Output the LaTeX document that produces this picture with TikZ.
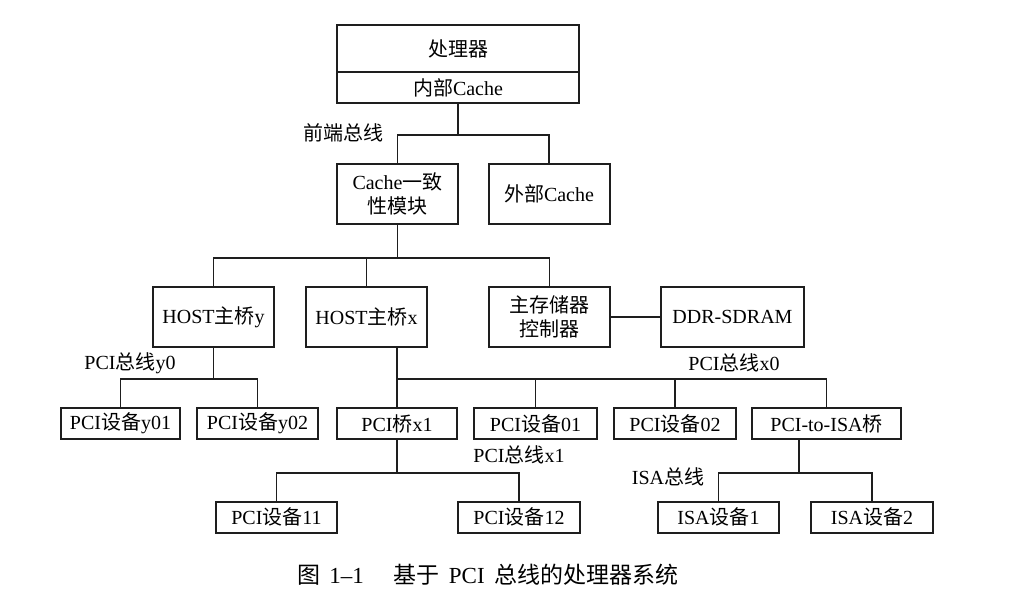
\documentclass[tikz,border=0pt]{standalone}
\usepackage{fontspec}
\setmainfont{Liberation Serif}
\newfontfamily\cjkfont{Noto Sans CJK SC}
\newcommand{\zh}[1]{{\cjkfont #1}}
\usetikzlibrary{positioning,calc}
\definecolor{lineBlk}{HTML}{1E1E1E}

\begin{document}
\begin{tikzpicture}[
  x=0.5pt, y=-0.5pt,
  font=\fontsize{10pt}{12pt}\selectfont,
  box/.style={draw=lineBlk, line width=1pt, minimum width=60.5pt,
    minimum height=30pt, inner sep=1pt, align=center},
  dev/.style={box, minimum height=15.5pt},
  bus/.style={draw=lineBlk, line width=0.8pt},
  lbl/.style={inner sep=1pt},
]
\useasboundingbox (0,0) rectangle (1012,615);

% ---------------- processor ----------------
\node[box, minimum width=121pt, minimum height=23.5pt] (cpu) at (458,48.5) {\zh{处理器}};
\node[box, minimum width=121pt, minimum height=15.5pt, below=-1pt of cpu] (icache) {\zh{内部}Cache};

\node[box] (cachemod) at (397.5,194) {Cache\zh{一致}\\\zh{性模块}};
\node[box] (extcache) at (549,194) {\zh{外部}Cache};

% ---------------- host level ----------------
\node[box] (hosty) at (213.5,317) {HOST\zh{主桥}y};
\node[box] (hostx) at (366.5,317) {HOST\zh{主桥}x};
\node[box] (memctl) at (549.5,317) {\zh{主存储器}\\\zh{控制器}};
\node[box, minimum width=71.5pt, right=24.5pt of memctl] (ddr) {DDR-SDRAM};

% ---------------- PCI devices ----------------
\node[dev, minimum width=59.5pt] (dy01) at (120.5,423.5) {PCI\zh{设备}y01};
\node[dev] (dy02) at (257.5,423.5) {PCI\zh{设备}y02};
\node[dev, minimum width=60pt] (brx1) at (397,423.5) {PCI\zh{桥}x1};
\node[dev, minimum width=61.5pt] (d01) at (535.5,423.5) {PCI\zh{设备}01};
\node[dev, minimum width=61pt] (d02) at (675,423.5) {PCI\zh{设备}02};
\node[dev, minimum width=74.5pt] (isabr) at (826.5,423.5) {PCI-to-ISA\zh{桥}};

\node[dev] (d11) at (276.5,517) {PCI\zh{设备}11};
\node[dev, minimum width=61pt] (d12) at (519,517) {PCI\zh{设备}12};
\node[dev] (isa1) at (718.5,517) {ISA\zh{设备}1};
\node[dev, minimum width=61pt] (isa2) at (872,517) {ISA\zh{设备}2};

% ---------------- bus labels ----------------
\node[lbl] (fsbl) at (343,133) {\zh{前端总线}};
\node[lbl] (by0l) at (130,363) {PCI\zh{总线}y0};
\node[lbl] (bx0l) at (734,363) {PCI\zh{总线}x0};
\node[lbl] (bx1l) at (519,455) {PCI\zh{总线}x1};
\node[lbl] (isal) at (668,477) {ISA\zh{总线}};

% ---------------- connectors ----------------
\draw[bus] (icache.south) -- ++(0,31) coordinate (fsb) -| (cachemod.north);
\draw[bus] (fsb) -| (extcache.north);

\draw[bus] (cachemod.south) -- ++(0,33) coordinate (sysb) -| (hosty.north);
\draw[bus] (sysb) -| (hostx.north);
\draw[bus] (sysb) -| (memctl.north);
\draw[bus] (memctl) -- (ddr);

\draw[bus] (hosty.south) -- ++(0,31) coordinate (by0) -| (dy01.north);
\draw[bus] (by0) -| (dy02.north);

\draw[bus] (hostx.south -| brx1.north) -- ++(0,31) coordinate (bx0) -- (brx1.north);
\draw[bus] (bx0) -| (d01.north);
\draw[bus] (bx0) -| (d02.north);
\draw[bus] (bx0) -| (isabr.north);

\draw[bus] (brx1.south) -- ++(0,33) coordinate (bx1) -| (d11.north);
\draw[bus] (bx1) -| (d12.north);

\draw[bus] ($(isabr.south)+(-27.5,0)$) -- ++(0,33) coordinate (isab) -| (isa1.north);
\draw[bus] (isab) -| (isa2.north);

% ---------------- caption ----------------
\node[lbl, anchor=west, font=\fontsize{11.5pt}{13pt}\selectfont] (caption) at (295,575)
  {\zh{图}\hspace{4.5pt}1--1\hspace{15pt}\zh{基于}\hspace{4.5pt}PCI\hspace{5pt}\zh{总线的处理器系统}};

\end{tikzpicture}
\end{document}
